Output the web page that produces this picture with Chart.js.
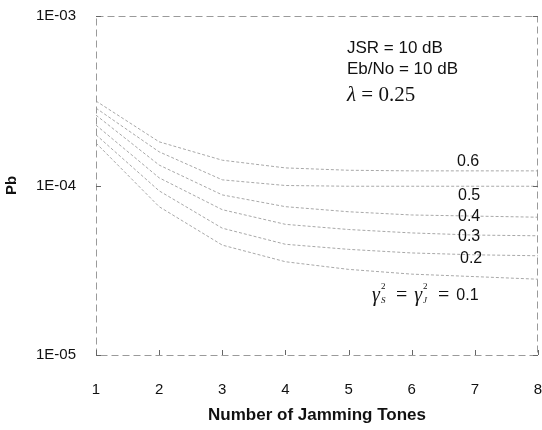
<!DOCTYPE html>
<html>
<head>
<meta charset="utf-8">
<script src="https://cdn.jsdelivr.net/npm/chart.js@4/dist/chart.umd.min.js"></script>
<style>
  body { margin: 0; background: #fff; }
  #wrap { width: 542px; height: 430px; }
</style>
</head>
<body>
<div id="wrap"><canvas id="pbChart" width="542" height="430"></canvas></div>
<script>
// nombre de tonalités de brouillage
const tones = [1, 2, 3, 4, 5, 6, 7, 8];
// Pb pour chaque gamma^2
const pb06 = [3.15e-4, 1.81e-4, 1.41e-4, 1.27e-4, 1.23e-4, 1.22e-4, 1.22e-4, 1.22e-4];
const pb05 = [2.86e-4, 1.58e-4, 1.08e-4, 1.0e-4, 0.99e-4, 0.99e-4, 0.99e-4, 0.99e-4];
const pb04 = [2.6e-4, 1.32e-4, 8.8e-5, 7.5e-5, 7.0e-5, 6.7e-5, 6.6e-5, 6.5e-5];
const pb03 = [2.27e-4, 1.11e-4, 7.2e-5, 5.9e-5, 5.5e-5, 5.25e-5, 5.1e-5, 5.05e-5];
const pb02 = [1.99e-4, 9.3e-5, 5.6e-5, 4.5e-5, 4.2e-5, 4.0e-5, 3.9e-5, 3.85e-5];
const pb01 = [1.78e-4, 7.5e-5, 4.45e-5, 3.55e-5, 3.2e-5, 3.0e-5, 2.9e-5, 2.8e-5];
const gammaLabels = ['0.6', '0.5', '0.4', '0.3', '0.2', '0.1'];
const yTicks = [1e-5, 1e-4, 1e-3];
const yTickLabels = ['1E-05', '1E-04', '1E-03'];

const series = [pb06, pb05, pb04, pb03, pb02, pb01];

// cadre + petites graduations + textes
const framePlugin = {
  id: 'frame',
  afterDraw(chart) {
    const ctx = chart.ctx;
    const a = chart.chartArea;
    const xs = chart.scales.x, ys = chart.scales.y;
    ctx.save();
    ctx.strokeStyle = '#9a9a9a';
    ctx.lineWidth = 1;
    ctx.setLineDash([7, 4]);
    ctx.strokeRect(a.left + 0.5, a.top + 0.5, a.right - a.left - 1, a.bottom - a.top);
    ctx.setLineDash([]);
    ctx.strokeStyle = '#666';
    tones.forEach(t => {
      const px = Math.round(xs.getPixelForValue(t)) + 0.5;
      ctx.beginPath();
      ctx.moveTo(px, a.bottom - 5);
      ctx.lineTo(px, a.bottom);
      ctx.stroke();
    });
    yTicks.forEach(v => {
      const py = Math.round(ys.getPixelForValue(v)) + 0.5;
      ctx.beginPath();
      ctx.moveTo(a.left, py); ctx.lineTo(a.left + 5, py);
      ctx.moveTo(a.right - 5, py); ctx.lineTo(a.right, py);
      ctx.stroke();
    });

    ctx.fillStyle = '#111';
    ctx.textBaseline = 'middle';
    ctx.textAlign = 'left';
    ctx.font = '17px "Liberation Sans", Arial, sans-serif';
    ctx.fillText('JSR = 10 dB', 347, 48);
    ctx.fillText('Eb/No = 10 dB', 347, 69);
    ctx.font = 'italic 21px "Liberation Serif", "Times New Roman", serif';
    ctx.fillText('λ', 347, 95);
    let w = ctx.measureText('λ').width;
    ctx.font = '21px "Liberation Serif", "Times New Roman", serif';
    ctx.fillText(' = 0.25', 347 + w, 95);

    // étiquettes des courbes
    ctx.font = '16px "Liberation Sans", Arial, sans-serif';
    const labelY = [162, 196, 217, 237, 259];
    const labelX = [457, 458, 458, 458, 460];
    for (let i = 0; i < 5; i++) ctx.fillText(gammaLabels[i], labelX[i], labelY[i]);

    // gamma_S^2 = gamma_J^2 = 0.1
    const yb = 296;
    let x = 372;
    const gamma = (sub) => {
      ctx.font = 'italic 20px "Liberation Serif", serif';
      ctx.fillText('γ', x, yb);
      x += ctx.measureText('γ').width + 1;
      ctx.font = '9px "Liberation Serif", serif';
      ctx.fillText('2', x, yb - 9);
      ctx.font = 'italic 9px "Liberation Serif", serif';
      ctx.fillText(sub, x, yb + 5);
      x += 8;
    };
    const eq = () => {
      ctx.font = '20px "Liberation Serif", serif';
      x += 7;
      ctx.fillText('=', x, yb);
      x += ctx.measureText('=').width + 7;
    };
    gamma('S');
    eq();
    gamma('J');
    eq();
    ctx.font = '16px "Liberation Sans", Arial, sans-serif';
    ctx.fillText(gammaLabels[5], x, yb);
    ctx.restore();
  }
};

new Chart(document.getElementById('pbChart'), {
  type: 'line',
  data: {
    datasets: series.map((s, i) => ({
      label: gammaLabels[i],
      data: tones.map((t, j) => ({ x: t, y: s[j] })),
      borderColor: '#a8a8a8',
      borderWidth: 1,
      borderDash: [3, 2],
      pointRadius: 0,
      tension: 0,
      fill: false
    }))
  },
  options: {
    responsive: false,
    animation: false,
    layout: { padding: { top: 16, right: 4, left: 0, bottom: 0 } },
    plugins: { legend: { display: false }, tooltip: { enabled: false } },
    scales: {
      x: {
        type: 'linear',
        min: 1,
        max: 8,
        grid: { display: false },
        border: { display: false },
        afterBuildTicks: (scale) => { scale.ticks = tones.map(v => ({ value: v })); },
        ticks: {
          padding: 18,
          color: '#111',
          maxRotation: 0,
          font: { family: '"Liberation Sans", Arial, sans-serif', size: 15 }
        },
        title: {
          display: true,
          text: 'Number of Jamming Tones',
          color: '#111',
          padding: { top: 0, bottom: 4 },
          font: { family: '"Liberation Sans", Arial, sans-serif', size: 17, weight: 'bold' }
        },
        afterFit: (scale) => {
          scale.height = 75;
          scale.paddingLeft = 0;
          scale.paddingRight = 0;
        }
      },
      y: {
        type: 'logarithmic',
        min: 1e-5,
        max: 1e-3,
        grid: { display: false },
        border: { display: false },
        afterBuildTicks: (scale) => { scale.ticks = yTicks.map(v => ({ value: v })); },
        ticks: {
          padding: 12,
          color: '#111',
          font: { family: '"Liberation Sans", Arial, sans-serif', size: 15 },
          callback: (v) => yTickLabels[yTicks.indexOf(v)] ?? ''
        },
        title: {
          display: true,
          text: 'Pb',
          color: '#111',
          padding: { top: 3, bottom: 0 },
          font: { family: '"Liberation Sans", Arial, sans-serif', size: 15, weight: 'bold' }
        },
        afterFit: (scale) => {
          scale.width = 96;
          scale.paddingTop = 0;
          scale.paddingBottom = 0;
        }
      }
    }
  },
  plugins: [framePlugin]
});
</script>
</body>
</html>
